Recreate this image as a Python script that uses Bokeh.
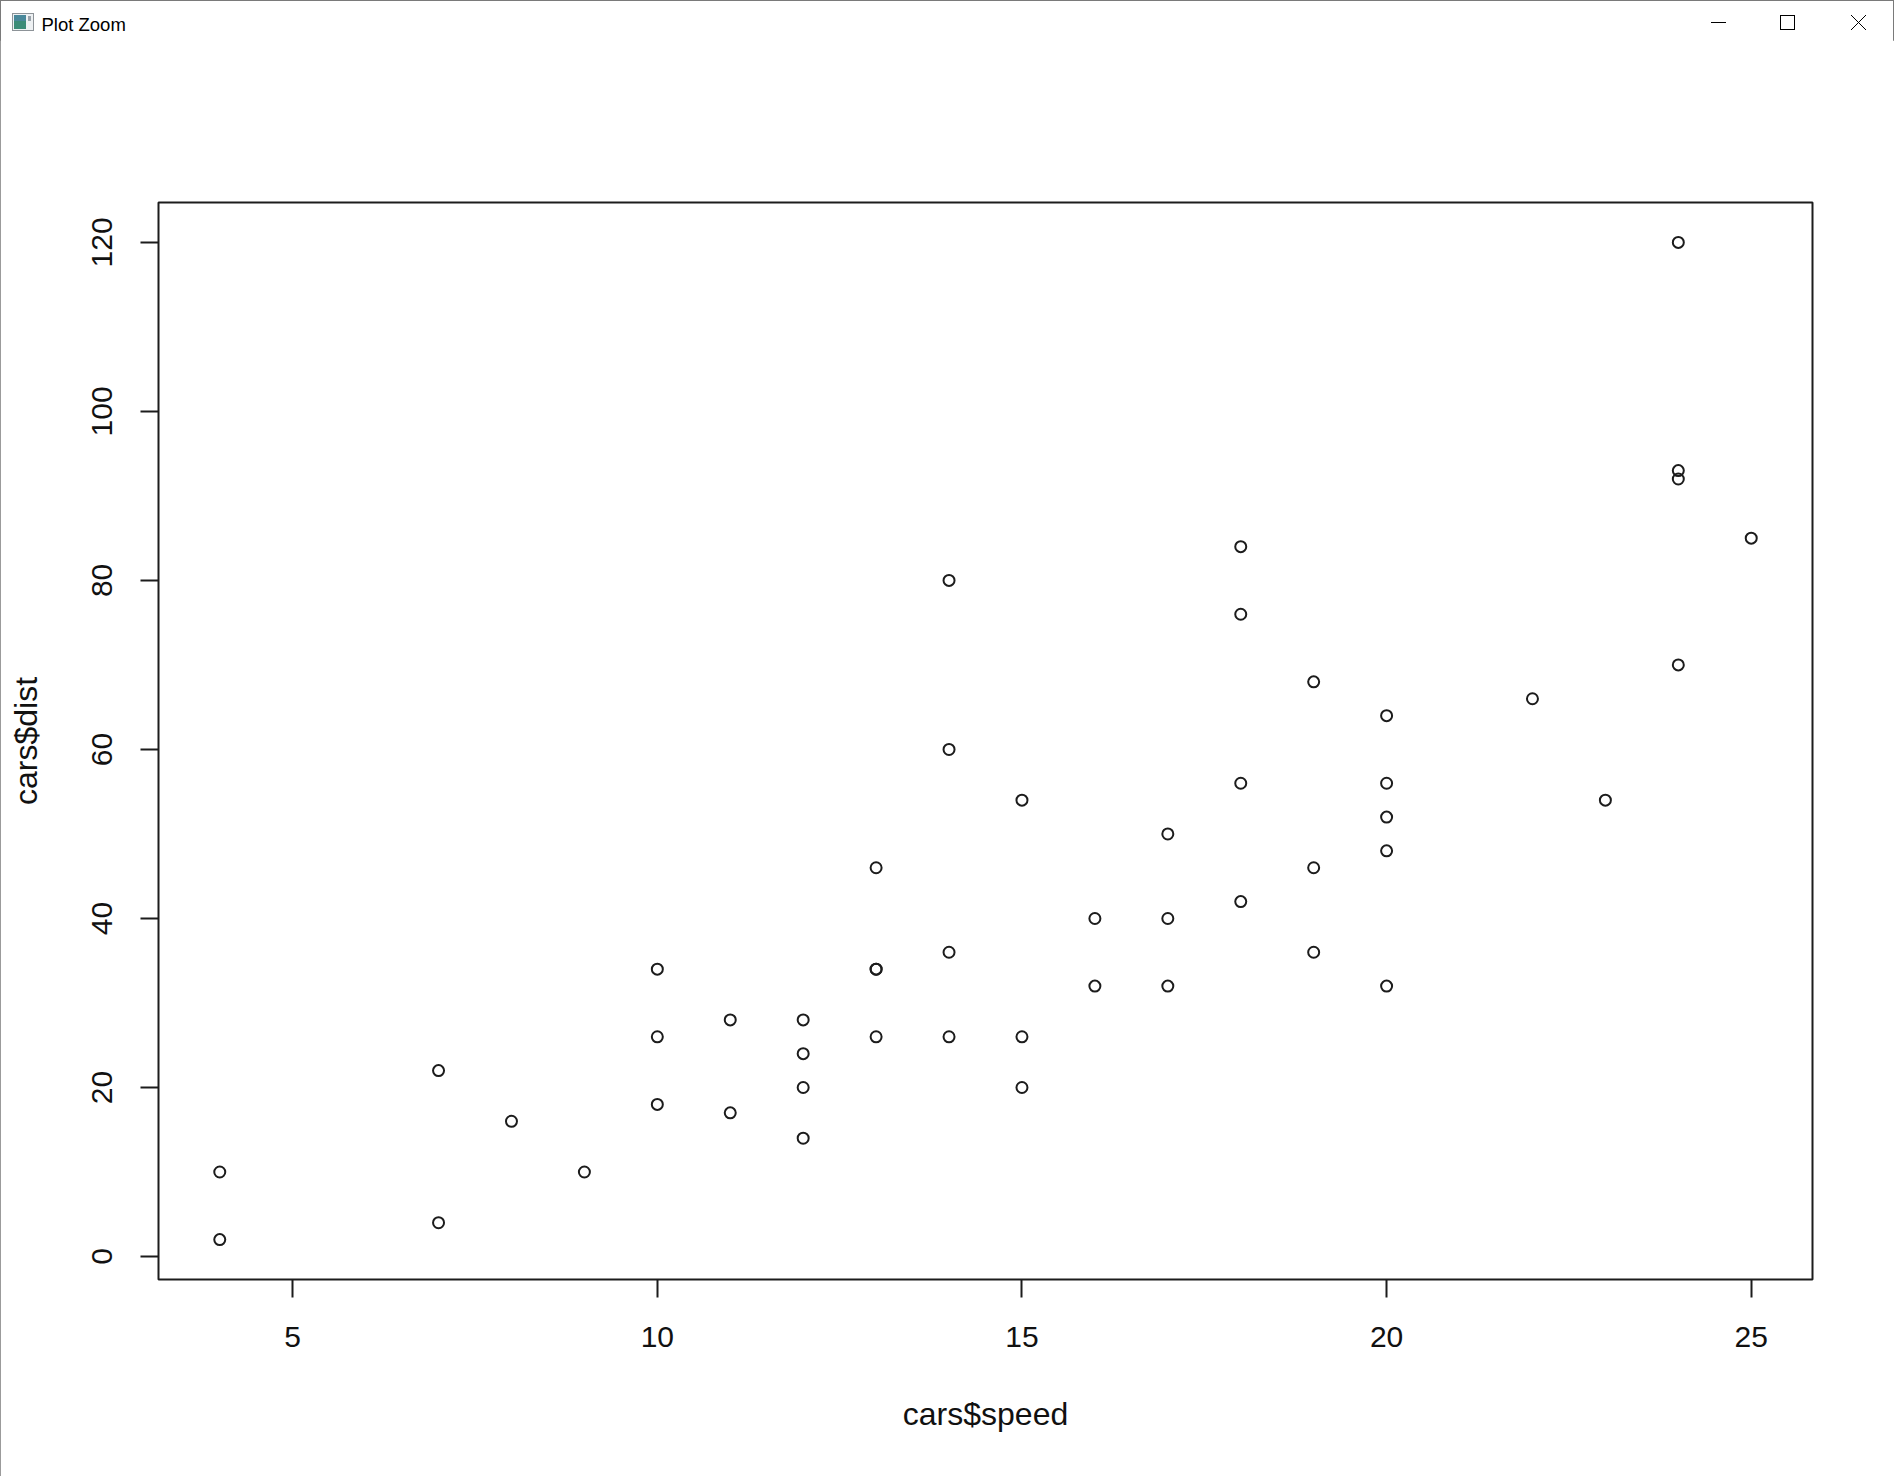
from bokeh.plotting import figure
from bokeh.layouts import column
from bokeh.models import Range1d, FixedTicker, Div
from bokeh.embed import file_html
from bokeh.resources import INLINE

# ---- data (R's built-in "cars" data set) ----
speed = [4, 4, 7, 7, 8, 9, 10, 10, 10, 11, 11, 12, 12, 12, 12, 13, 13, 13, 13, 14,
         14, 14, 14, 15, 15, 15, 16, 16, 17, 17, 17, 18, 18, 18, 18, 19, 19, 19, 20, 20,
         20, 20, 20, 22, 23, 24, 24, 24, 24, 25]
dist = [2, 10, 4, 22, 16, 10, 18, 26, 34, 17, 28, 14, 20, 24, 28, 26, 34, 34, 46, 26,
        36, 60, 80, 20, 26, 54, 32, 40, 32, 40, 50, 42, 56, 76, 84, 36, 46, 68, 32, 48,
        52, 56, 64, 66, 54, 70, 92, 93, 120, 85]
x_ticks = [5, 10, 15, 20, 25]
y_ticks = [0, 20, 40, 60, 80, 100, 120]
x_label = "cars$speed"
y_label = "cars$dist"
window_title = "Plot Zoom"

W, H = 1894, 1476
TB = 40                       # title-bar strip height
FL, FT, FW, FH = 158, 202, 1654, 1077
FR = W - FL - FW
FB = H - FT - FH


def pad(lo, hi):
    d = (hi - lo) * 0.04
    return lo - d, hi + d


xr = pad(min(speed), max(speed))
yr = pad(min(dist), max(dist))

INK = "#1c1c1c"
FONT = "Liberation Sans"
EDGE = "#7a7a7a"

# ---------------- window title bar (HTML / inline SVG) ----------------
bar_svg = (
    f'<svg xmlns="http://www.w3.org/2000/svg" width="{W}" height="{TB}" style="display:block">'
    f'<line x1="0" y1="0.5" x2="{W}" y2="0.5" stroke="{EDGE}" stroke-width="1"/>'
    f'<line x1="0.5" y1="0" x2="0.5" y2="{TB}" stroke="{EDGE}" stroke-width="1"/>'
    f'<line x1="{W - 0.5}" y1="0" x2="{W - 0.5}" y2="{TB}" stroke="{EDGE}" stroke-width="1"/>'
    '<rect x="12.5" y="13.5" width="21" height="17" fill="#eef1f3" stroke="#8d9398"/>'
    '<rect x="14" y="15" width="12" height="14" fill="#3c8c78"/>'
    '<rect x="14" y="15" width="12" height="6" fill="#4f86a8" opacity="0.7"/>'
    '<rect x="28" y="16" width="3" height="5" fill="#9aa3aa"/>'
    f'<text x="41.5" y="31" font-family="Noto Sans" font-size="18.5" fill="#000">{window_title}</text>'
    '<line x1="1711" y1="22.5" x2="1726" y2="22.5" stroke="#000" stroke-width="1"/>'
    '<rect x="1780.5" y="15.5" width="14" height="14" fill="none" stroke="#000" stroke-width="1"/>'
    '<line x1="1851" y1="15" x2="1866" y2="30" stroke="#000" stroke-width="1"/>'
    '<line x1="1851" y1="30" x2="1866" y2="15" stroke="#000" stroke-width="1"/>'
    '</svg>'
)
bar = Div(text=bar_svg, width=W, height=TB, styles={"margin": "0", "padding": "0"})

# ---------------- scatter plot ----------------
p = figure(width=W, height=H - TB, x_range=Range1d(*xr), y_range=Range1d(*yr),
           output_backend="svg", toolbar_location=None,
           min_border_left=FL, min_border_top=FT - TB, min_border_right=FR, min_border_bottom=FB)
p.title.visible = False
p.background_fill_color = "white"
p.border_fill_color = "white"
p.grid.visible = False
p.outline_line_color = INK
p.outline_line_width = 2

p.scatter(speed, dist, size=11, fill_color=None, line_color=INK, line_width=2)

for ax, ticks in ((p.xaxis[0], x_ticks), (p.yaxis[0], y_ticks)):
    ax.ticker = FixedTicker(ticks=ticks)
    ax.axis_line_color = None
    ax.major_tick_line_color = INK
    ax.major_tick_line_width = 2
    ax.major_tick_in = 0
    ax.major_tick_out = 18
    ax.minor_tick_line_color = None
    ax.major_label_text_font = FONT
    ax.major_label_text_font_size = "30px"
    ax.major_label_text_color = "#111111"
    ax.axis_label_text_font = FONT
    ax.axis_label_text_font_size = "32px"
    ax.axis_label_text_font_style = "normal"
    ax.axis_label_text_color = "#111111"

p.xaxis.axis_label = x_label
p.xaxis.major_label_standoff = 29
p.xaxis.axis_label_standoff = 46
p.yaxis.axis_label = y_label
p.yaxis.major_label_orientation = "vertical"
p.yaxis.major_label_standoff = 28
p.yaxis.axis_label_standoff = 46

page = column(bar, p, spacing=0,
              styles={"outline": f"1px solid {EDGE}", "outline-offset": "-1px"})

open("out.html", "w").write(file_html(page, INLINE))
